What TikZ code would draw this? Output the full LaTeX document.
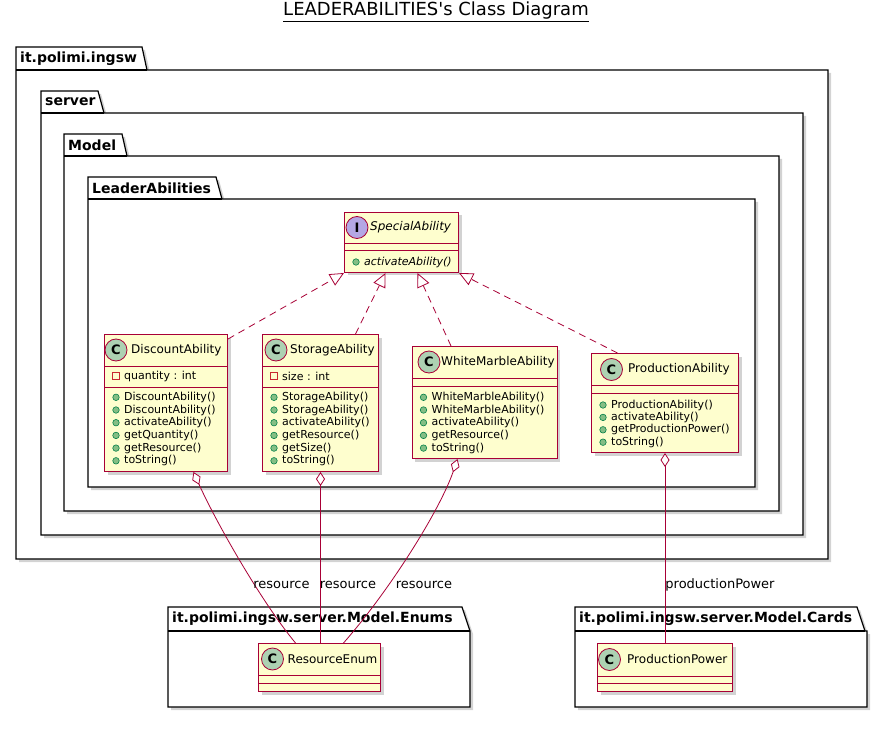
\documentclass[tikz,border=0pt]{standalone}
\usepackage{fontspec}
\setmainfont{DejaVu Sans}[Ligatures=TeXOff]
\usetikzlibrary{arrows.meta, shadows}
\definecolor{umlred}{HTML}{A80036}
\definecolor{umlfill}{HTML}{FEFECE}
\definecolor{circC}{HTML}{ADD1B2}
\definecolor{circI}{HTML}{B4A7E5}
\definecolor{pubfill}{HTML}{84BE84}
\definecolor{pubdraw}{HTML}{038048}
\definecolor{privdraw}{HTML}{C82930}
\tikzset{
    pkg/.style={draw=black, fill=white, line width=1.2pt,
    	drop shadow={shadow xshift=3pt, shadow yshift=-3pt, opacity=.35}},
    pkgedge/.style={draw=black, line width=1.2pt},
    pkgname/.style={anchor=west, inner sep=0pt,
    	font=\fontsize{14}{16}\selectfont\bfseries},
    cls/.style={rectangle, draw=umlred, fill=umlfill, line width=1pt,
    	inner sep=0pt, anchor=north west,
    	drop shadow={shadow xshift=3pt, shadow yshift=-3pt, opacity=.35}},
    sep/.style={draw=umlred, line width=.8pt},
    badge/.style={circle, draw=umlred, line width=.8pt, minimum size=22pt,
    	inner sep=0pt, font=\fontsize{13}{13}\selectfont\bfseries},
    clsname/.style={anchor=west, inner sep=0pt, font=\fontsize{12}{14}\selectfont},
    member/.style={anchor=west, inner sep=0pt, font=\fontsize{11}{13}\selectfont},
    abstract/.style={anchor=west, inner sep=0pt,
    	font=\fontsize{11}{13}\selectfont\itshape},
    pub/.style={circle, draw=pubdraw, fill=pubfill, line width=.6pt,
    	minimum size=6.5pt, inner sep=0pt},
    priv/.style={rectangle, draw=privdraw, line width=.8pt,
    	minimum size=6.5pt, inner sep=0pt},
    realize/.style={draw=umlred, line width=.8pt, dash pattern=on 7pt off 5pt,
    	-{Triangle[open, length=14pt, width=13pt, fill=white]}},
    aggr/.style={draw=umlred, line width=.8pt,
    	{Diamond[open, length=14pt, width=9pt, fill=white]}-},
    lbl/.style={inner sep=0pt, font=\fontsize{13}{15}\selectfont},
    title/.style={inner sep=0pt, font=\fontsize{18}{22}\selectfont}
}

\begin{document}
\begin{tikzpicture}[x=1pt, y=-1pt]
	\useasboundingbox (0,0) rectangle (884,730);
	\node[title] (title) at (436,12) {\underline{LEADERABILITIES's Class Diagram}};

	% nested packages
	\draw[pkg] (16,47) -- (142,47) -- (147,70) -- (828,70) -- (828,559) -- (16,559) -- cycle;
	\draw[pkgedge] (16,70) -- (147,70);
	\node[pkgname] (pIngsw) at (20,59) {it.polimi.ingsw};
	\draw[pkg] (41,91) -- (98,91) -- (104,113) -- (803,113) -- (803,535) -- (41,535) -- cycle;
	\draw[pkgedge] (41,113) -- (104,113);
	\node[pkgname] (pServer) at (45,102) {server};
	\draw[pkg] (64,134) -- (122,134) -- (127,156) -- (779,156) -- (779,511) -- (64,511) -- cycle;
	\draw[pkgedge] (64,156) -- (127,156);
	\node[pkgname] (pModel) at (68,145) {Model};
	\draw[pkg] (88,177) -- (216,177) -- (222,199) -- (755,199) -- (755,487) -- (88,487) -- cycle;
	\draw[pkgedge] (88,199) -- (222,199);
	\node[pkgname] (pLeader) at (92,188) {LeaderAbilities};
	\draw[pkg] (168,607) -- (462,607) -- (470,631) -- (470,707) -- (168,707) -- cycle;
	\draw[pkgedge] (168,631) -- (470,631);
	\node[pkgname] (pEnums) at (172,619) {it.polimi.ingsw.server.Model.Enums};
	\draw[pkg] (575,607) -- (857,607) -- (865,631) -- (867,631) -- (867,707) -- (575,707) -- cycle;
	\draw[pkgedge] (575,631) -- (865,631);
	\node[pkgname] (pCards) at (579,619) {it.polimi.ingsw.server.Model.Cards};

	% SpecialAbility
	\node[cls, minimum width=114pt, minimum height=60pt] (spec) at (344,212) {};
	\draw[sep] (344,243) -- (458,243);
	\draw[sep] (344,250) -- (458,250);
	\node[badge, fill=circI] (specI) at (357,227.5) {I};
	\node[clsname, font=\fontsize{12}{14}\selectfont\itshape] (specN) at (370,227.5) {SpecialAbility};
	\node[pub] (specB1) at (356,262) {};
	\node[abstract] (specM1) at (364,262) {activateAbility()};

	% DiscountAbility
	\node[cls, minimum width=123pt, minimum height=137pt] (disc) at (104,334) {};
	\draw[sep] (104,366) -- (227,366);
	\draw[sep] (104,387) -- (227,387);
	\node[badge, fill=circC] (discC) at (116,350) {C};
	\node[clsname] (discN) at (131,350) {DiscountAbility};
	\node[priv] (discP1) at (116,376) {};
	\node[member] (discF1) at (124,376) {quantity : int};
	\foreach \m [count=\i] in {DiscountAbility(), DiscountAbility(), activateAbility(),
		getQuantity(), getResource(), toString()} {
		\node[pub] (discB\i) at (116,{397.3+12.7*(\i-1)}) {};
		\node[member] (discM\i) at (124,{397.3+12.7*(\i-1)}) {\m};
	}

	% StorageAbility
	\node[cls, minimum width=116pt, minimum height=137pt] (stor) at (262,334) {};
	\draw[sep] (262,366) -- (378,366);
	\draw[sep] (262,387) -- (378,387);
	\node[badge, fill=circC] (storC) at (276,350) {C};
	\node[clsname] (storN) at (290,350) {StorageAbility};
	\node[priv] (storP1) at (274,376) {};
	\node[member] (storF1) at (282,376) {size : int};
	\foreach \m [count=\i] in {StorageAbility(), StorageAbility(), activateAbility(),
		getResource(), getSize(), toString()} {
		\node[pub] (storB\i) at (274,{397.3+12.7*(\i-1)}) {};
		\node[member] (storM\i) at (282,{397.3+12.7*(\i-1)}) {\m};
	}

	% WhiteMarbleAbility
	\node[cls, minimum width=145pt, minimum height=112pt] (white) at (411.5,346) {};
	\draw[sep] (411.5,378) -- (556.5,378);
	\draw[sep] (411.5,386.5) -- (556.5,386.5);
	\node[badge, fill=circC] (whiteC) at (429,362) {C};
	\node[clsname] (whiteN) at (441,362) {WhiteMarbleAbility};
	\foreach \m [count=\i] in {WhiteMarbleAbility(), WhiteMarbleAbility(), activateAbility(),
		getResource(), toString()} {
		\node[pub] (whiteB\i) at (423.5,{397.3+12.7*(\i-1)}) {};
		\node[member] (whiteM\i) at (431.5,{397.3+12.7*(\i-1)}) {\m};
	}

	% ProductionAbility
	\node[cls, minimum width=147pt, minimum height=99pt] (prod) at (591,353) {};
	\draw[sep] (591,385.5) -- (738,385.5);
	\draw[sep] (591,393.5) -- (738,393.5);
	\node[badge, fill=circC] (prodC) at (611.5,369.5) {C};
	\node[clsname] (prodN) at (628,369.5) {ProductionAbility};
	\foreach \m [count=\i] in {ProductionAbility(), activateAbility(),
		getProductionPower(), toString()} {
		\node[pub] (prodB\i) at (603,{405+12.4*(\i-1)}) {};
		\node[member] (prodM\i) at (611,{405+12.4*(\i-1)}) {\m};
	}

	% ResourceEnum, ProductionPower
	\node[cls, minimum width=122pt, minimum height=48pt] (res) at (258,643) {};
	\draw[sep] (258,675) -- (380,675);
	\draw[sep] (258,683) -- (380,683);
	\node[badge, fill=circC] (resC) at (272.5,659) {C};
	\node[clsname] (resN) at (287.5,659) {ResourceEnum};
	\node[cls, minimum width=135pt, minimum height=48pt] (ppow) at (597,643) {};
	\draw[sep] (597,676) -- (732,676);
	\draw[sep] (597,683) -- (732,683);
	\node[badge, fill=circC] (ppowC) at (609.5,659.5) {C};
	\node[clsname] (ppowN) at (627,659.5) {ProductionPower};

	% realizations
	\draw[realize] ([yshift=-5pt]disc.north east) -- (spec.south west);
	\draw[realize] ([xshift=35pt]stor.north) -- ([xshift=-16pt]spec.south);
	\draw[realize] ([xshift=-33.5pt]white.north) -- ([xshift=16pt]spec.south);
	\draw[realize] ([xshift=-47.5pt]prod.north) -- (spec.south east);

	% aggregations
	\draw[aggr] ([xshift=27.5pt]disc.south) .. controls (215,520) and (260,600) .. ([xshift=-24pt]res.north);
	\draw[aggr] (stor.south) -- (stor.south |- res.north);
	\draw[aggr] ([xshift=-27pt]white.south) .. controls (440,510) and (390,590) .. ([xshift=24pt]res.north);
	\draw[aggr] (prod.south) -- (ppow.north);
	\node[lbl] (lblA) at (281.5,585) {resource};
	\node[lbl] (lblB) at (348,585) {resource};
	\node[lbl] (lblC) at (424,585) {resource};
	\node[lbl] (lblD) at (720,585) {productionPower};
\end{tikzpicture}
\end{document}
